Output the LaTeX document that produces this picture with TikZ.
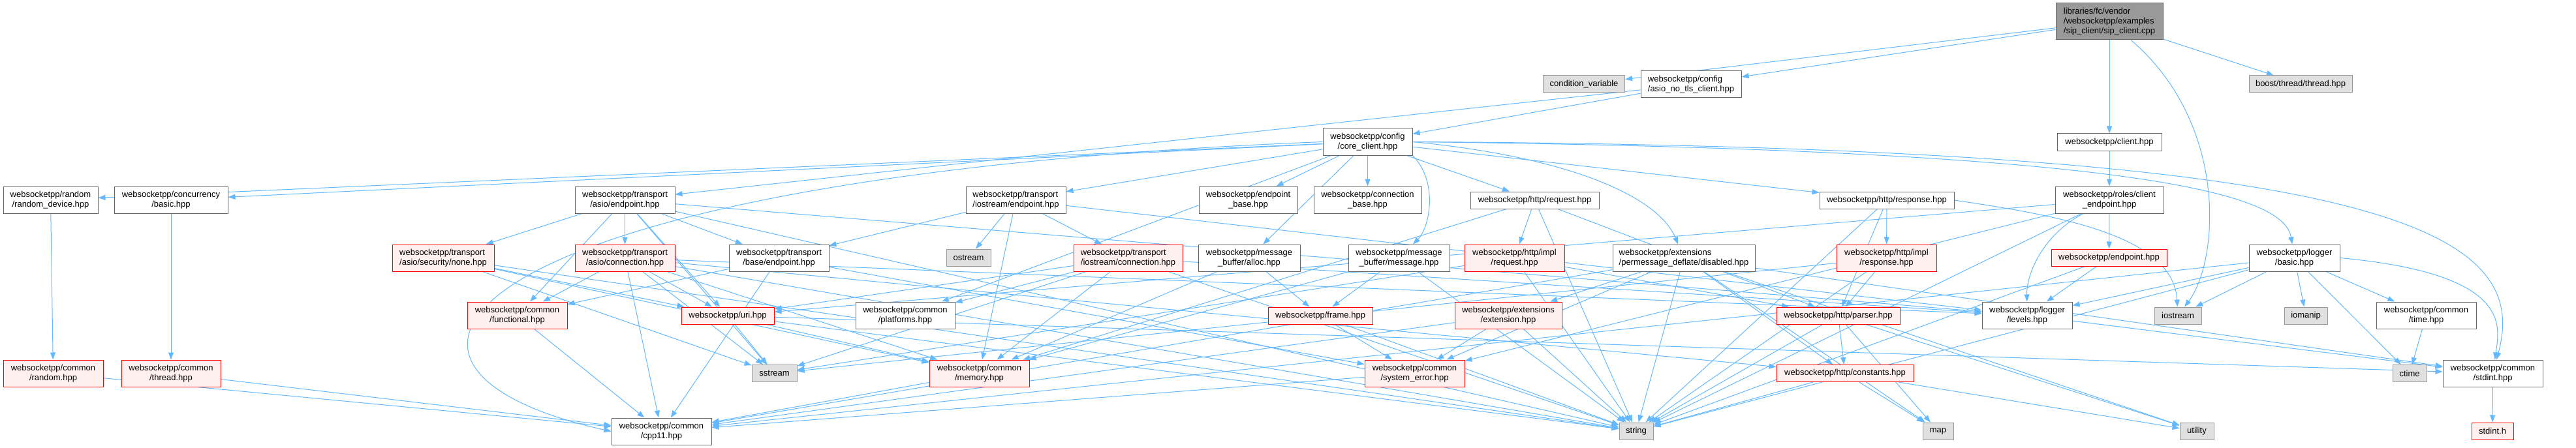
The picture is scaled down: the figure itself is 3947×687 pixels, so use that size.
\documentclass[tikz,border=0pt]{standalone}
\usepackage{fontspec}
\setmainfont{Liberation Sans}
\usepackage{xcolor}
\usepackage{tikz}
\usetikzlibrary{arrows.meta,backgrounds}

\definecolor{edgeblue}{HTML}{63B8FF}
\definecolor{framegrey}{HTML}{666666}
\definecolor{leafgrey}{HTML}{999999}
\definecolor{leaffill}{HTML}{E0E0E0}
\definecolor{truncfill}{HTML}{FFF0F0}

\begin{document}
\begin{tikzpicture}[
    x=1pt, y=-1pt,
    >={Triangle[length=11pt,width=8pt]},
    font=\fontsize{13}{15}\selectfont,
    hdr/.style={draw=framegrey, fill=white, line width=1pt, align=center, inner sep=0pt, minimum height=41pt},
    trunc/.style={hdr, draw=red, fill=truncfill},
    leaf/.style={hdr, draw=leafgrey, fill=leaffill, minimum height=26pt},
    srcfile/.style={hdr, fill=leafgrey, minimum height=56pt, align=left},
    one/.style={minimum height=26pt},
    dep/.style={->, draw=edgeblue, line width=1pt}
]
\useasboundingbox (0,0) rectangle (3947,687);

% top rows
\node[srcfile, minimum width=164pt] (root) at (3232,33) {libraries/fc/vendor\\/websocketpp/examples\\/sip\_client/sip\_client.cpp};
\node[leaf, minimum width=125pt] (condvar) at (2427,129) {condition\_variable};
\node[hdr, align=left, minimum width=154pt] (asionotls) at (2591,129.5) {websocketpp/config\\/asio\_no\_tls\_client.hpp};
\node[leaf, minimum width=158pt] (boostthread) at (3525,129) {boost/thread/thread.hpp};
\node[hdr, minimum width=137pt] (coreclient) at (2095.5,217.5) {websocketpp/config\\/core\_client.hpp};
\node[hdr, one, minimum width=160pt] (client) at (3232,218) {websocketpp/client.hpp};

% row 3
\node[hdr, minimum width=145pt] (randdev) at (77.5,306.5) {websocketpp/random\\/random\_device.hpp};
\node[hdr, minimum width=174pt] (concbasic) at (262,306.5) {websocketpp/concurrency\\/basic.hpp};
\node[hdr, minimum width=153pt] (asioendpoint) at (957.5,306.5) {websocketpp/transport\\/asio/endpoint.hpp};
\node[hdr, align=left, minimum width=153pt] (ioendpoint) at (1556.5,306.5) {websocketpp/transport\\/iostream/endpoint.hpp};
\node[hdr, minimum width=151pt] (endpointbase) at (1912.5,306.5) {websocketpp/endpoint\\\_base.hpp};
\node[hdr, minimum width=165pt] (connbase) at (2095.5,306.5) {websocketpp/connection\\\_base.hpp};
\node[hdr, one, minimum width=197pt] (httprequest) at (2351.5,307) {websocketpp/http/request.hpp};
\node[hdr, one, minimum width=206pt] (httpresponse) at (2891,307) {websocketpp/http/response.hpp};
\node[hdr, minimum width=166pt] (clientendpoint) at (3232,306.5) {websocketpp/roles/client\\\_endpoint.hpp};

% row 4
\node[trunc, align=left, minimum width=156pt] (none) at (679,395.5) {websocketpp/transport\\/asio/security/none.hpp};
\node[trunc, minimum width=153pt] (asioconn) at (957.5,395.5) {websocketpp/transport\\/asio/connection.hpp};
\node[hdr, minimum width=153pt] (baseendpoint) at (1193.5,395.5) {websocketpp/transport\\/base/endpoint.hpp};
\node[leaf, minimum width=68pt] (ostream) at (1484,395) {ostream};
\node[trunc, align=left, minimum width=167pt] (ioconn) at (1728.5,395.5) {websocketpp/transport\\/iostream/connection.hpp};
\node[hdr, minimum width=156pt] (alloc) at (1914,395.5) {websocketpp/message\\\_buffer/alloc.hpp};
\node[hdr, minimum width=155pt] (message) at (2143.5,395.5) {websocketpp/message\\\_buffer/message.hpp};
\node[trunc, minimum width=153pt] (implrequest) at (2320.5,395.5) {websocketpp/http/impl\\/request.hpp};
\node[hdr, align=left, minimum width=218pt] (disabled) at (2580,395.5) {websocketpp/extensions\\/permessage\_deflate/disabled.hpp};
\node[trunc, minimum width=153pt] (implresponse) at (2890.5,395.5) {websocketpp/http/impl\\/response.hpp};
\node[trunc, one, minimum width=177pt] (endpoint) at (3231.5,395) {websocketpp/endpoint.hpp};
\node[hdr, minimum width=139pt] (loggerbasic) at (3515.5,395.5) {websocketpp/logger\\/basic.hpp};

% row 5
\node[trunc, minimum width=153pt] (functional) at (792.5,483.5) {websocketpp/common\\/functional.hpp};
\node[trunc, one, minimum width=142pt] (uri) at (1115,484) {websocketpp/uri.hpp};
\node[hdr, minimum width=152pt] (platforms) at (1387,483.5) {websocketpp/common\\/platforms.hpp};
\node[trunc, one, minimum width=160pt] (frame) at (2023,484) {websocketpp/frame.hpp};
\node[trunc, minimum width=164pt] (extension) at (2311,483.5) {websocketpp/extensions\\/extension.hpp};
\node[trunc, one, minimum width=189pt] (parser) at (2816.5,484) {websocketpp/http/parser.hpp};
\node[hdr, minimum width=138pt] (levels) at (3106,483.5) {websocketpp/logger\\/levels.hpp};
\node[leaf, minimum width=72pt] (iostream) at (3337,484) {iostream};
\node[leaf, minimum width=66pt] (iomanip) at (3533,484) {iomanip};
\node[hdr, minimum width=153pt] (time) at (3717.5,483.5) {websocketpp/common\\/time.hpp};

% row 6
\node[trunc, minimum width=153pt] (random) at (81.5,572.5) {websocketpp/common\\/random.hpp};
\node[trunc, minimum width=152pt] (thread) at (262,572.5) {websocketpp/common\\/thread.hpp};
\node[leaf, minimum width=69pt] (sstream) at (1186.5,572.5) {sstream};
\node[trunc, minimum width=153pt] (memory) at (1500.5,572.5) {websocketpp/common\\/memory.hpp};
\node[trunc, minimum width=153pt] (systemerror) at (2167.5,572.5) {websocketpp/common\\/system\_error.hpp};
\node[trunc, one, minimum width=210pt] (constants) at (2827,572.5) {websocketpp/http/constants.hpp};
\node[leaf, minimum width=52pt] (ctime) at (3692,572.5) {ctime};
\node[hdr, minimum width=153pt] (stdint) at (3819.5,572.5) {websocketpp/common\\/stdint.hpp};

% bottom row
\node[hdr, minimum width=153pt] (cpp11) at (1013.5,661.5) {websocketpp/common\\/cpp11.hpp};
\node[leaf, minimum width=52pt] (string) at (2507,661) {string};
\node[leaf, minimum width=47pt] (map) at (2969.5,661) {map};
\node[leaf, minimum width=52pt] (utility) at (3366,661) {utility};
\node[trunc, one, minimum width=64pt] (stdinth) at (3819,661) {stdint.h};

\begin{pgfonlayer}{background}
% from the example source
\draw[dep] (root) -- (condvar);
\draw[dep] (root) -- (asionotls);
\draw[dep] (root) -- (client);
\draw[dep] (root) -- (boostthread);
\draw[dep] (root) .. controls (3415,190) and (3400,400) .. (iostream);
\draw[dep] (asionotls) -- (coreclient);
\draw[dep] (asionotls) -- (asioendpoint);
\draw[dep] (client) -- (clientendpoint);
% core_client
\draw[dep] (coreclient) -- (randdev);
\draw[dep] (coreclient) -- (concbasic);
\draw[dep] (coreclient) -- (ioendpoint);
\draw[dep] (coreclient) -- (endpointbase);
\draw[dep] (coreclient) -- (connbase);
\draw[dep] (coreclient) -- (httprequest);
\draw[dep] (coreclient) -- (httpresponse);
\draw[dep] (coreclient) -- (platforms);
\draw[dep] (coreclient) -- (alloc);
\draw[dep] (coreclient.south east) .. controls (2205,280) and (2190,350) .. (message);
\draw[dep] (coreclient.east) .. controls (2400,240) and (2540,300) .. (disabled);
\draw[dep] (coreclient.east) .. controls (3300,230) and (3500,300) .. (loggerbasic);
\draw[dep] (coreclient.east) .. controls (3650,225) and (3880,350) .. (stdint);
\draw[dep] (coreclient.west) .. controls (700,270) and (480,560) .. (cpp11.west);
% client_endpoint
\draw[dep] (clientendpoint) -- (endpoint);
\draw[dep] (clientendpoint) .. controls (3130,360) and (3105,420) .. (levels);
\draw[dep] (clientendpoint) -- (uri);
\draw[dep] (clientendpoint) -- (systemerror);
\draw[dep] (clientendpoint) -- (string);
% asio transport
\draw[dep] (asioendpoint) -- (baseendpoint);
\draw[dep] (asioendpoint) -- (asioconn);
\draw[dep] (asioendpoint) -- (none);
\draw[dep] (asioendpoint) -- (uri);
\draw[dep] (asioendpoint) -- (levels);
\draw[dep] (asioendpoint) -- (functional);
\draw[dep] (asioendpoint) -- (sstream);
\draw[dep] (asioendpoint) -- (string);
\draw[dep] (asioconn) -- (levels);
\draw[dep] (asioconn) -- (constants);
\draw[dep] (asioconn) -- (uri);
\draw[dep] (asioconn) -- (cpp11);
\draw[dep] (asioconn) -- (memory);
\draw[dep] (asioconn) -- (functional);
\draw[dep] (asioconn) -- (sstream);
\draw[dep] (asioconn) -- (string);
\draw[dep] (none) -- (uri);
\draw[dep] (none) -- (memory);
\draw[dep] (none) -- (sstream);
\draw[dep] (none) -- (string);
\draw[dep] (baseendpoint) -- (cpp11);
\draw[dep] (baseendpoint) -- (functional);
\draw[dep] (baseendpoint) -- (systemerror);
% iostream transport
\draw[dep] (ioendpoint) -- (memory);
\draw[dep] (ioendpoint) -- (levels);
\draw[dep] (ioendpoint) -- (baseendpoint);
\draw[dep] (ioendpoint) -- (ioconn);
\draw[dep] (ioendpoint) -- (ostream);
\draw[dep] (ioconn) -- (uri);
\draw[dep] (ioconn) -- (levels);
\draw[dep] (ioconn) -- (memory);
\draw[dep] (ioconn) -- (platforms);
\draw[dep] (ioconn) -- (string);
\draw[dep] (ioconn) -- (sstream);
\draw[dep] (uri) -- (memory);
\draw[dep] (uri) -- (stdint);
\draw[dep] (uri) -- (sstream);
\draw[dep] (uri) -- (string);
% common
\draw[dep] (functional) -- (cpp11);
\draw[dep] (memory) -- (cpp11);
\draw[dep] (random) -- (cpp11);
\draw[dep] (thread) -- (cpp11);
\draw[dep] (systemerror) -- (cpp11);
\draw[dep] (randdev) -- (random);
\draw[dep] (concbasic) -- (thread);
% http
\draw[dep] (httprequest) -- (string);
\draw[dep] (httprequest) -- (memory);
\draw[dep] (httprequest) -- (parser);
\draw[dep] (httprequest) -- (implrequest);
\draw[dep] (httpresponse.east) .. controls (3150,330) and (3330,360) .. (iostream);
\draw[dep] (httpresponse) -- (string);
\draw[dep] (httpresponse) -- (parser);
\draw[dep] (httpresponse) -- (implresponse);
\draw[dep] (implrequest) -- (sstream);
\draw[dep] (implrequest) -- (string);
\draw[dep] (implrequest) -- (parser);
\draw[dep] (implresponse) -- (sstream);
\draw[dep] (implresponse) -- (string);
\draw[dep] (implresponse) -- (parser);
\draw[dep] (parser) -- (map);
\draw[dep] (parser) -- (string);
\draw[dep] (parser) -- (utility);
\draw[dep] (parser) -- (constants);
\draw[dep] (constants) -- (map);
\draw[dep] (constants) -- (string);
\draw[dep] (constants) -- (utility);
% message buffers
\draw[dep] (message) -- (memory);
\draw[dep] (message) -- (frame);
\draw[dep] (message) -- (string);
\draw[dep] (alloc) -- (memory);
\draw[dep] (alloc) -- (frame);
\draw[dep] (frame) -- (string);
\draw[dep] (frame) -- (systemerror);
% extensions
\draw[dep] (disabled) -- (cpp11);
\draw[dep] (disabled) -- (stdint);
\draw[dep] (disabled) -- (systemerror);
\draw[dep] (disabled) -- (constants);
\draw[dep] (disabled) -- (extension);
\draw[dep] (disabled) -- (map);
\draw[dep] (disabled) -- (string);
\draw[dep] (disabled) -- (utility);
\draw[dep] (extension) -- (cpp11);
\draw[dep] (extension) -- (systemerror);
\draw[dep] (extension) -- (string);
% endpoint and logger
\draw[dep] (endpoint) -- (levels);
\draw[dep] (endpoint) -- (string);
\draw[dep] (levels) -- (stdint);
\draw[dep] (loggerbasic) -- (ctime);
\draw[dep] (loggerbasic) -- (iostream);
\draw[dep] (loggerbasic) -- (iomanip);
\draw[dep] (loggerbasic) -- (string);
\draw[dep] (loggerbasic) -- (cpp11);
\draw[dep] (loggerbasic.east) .. controls (3850,420) and (3830,500) .. (stdint);
\draw[dep] (loggerbasic) -- (time);
\draw[dep] (loggerbasic) -- (levels);
\draw[dep] (time) -- (ctime);
\draw[dep] (stdint) -- (stdinth);
\end{pgfonlayer}
\end{tikzpicture}
\end{document}
